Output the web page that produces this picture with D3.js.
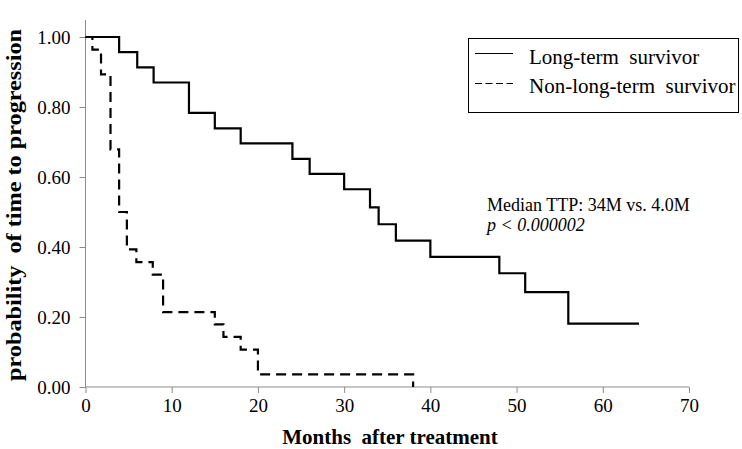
<!DOCTYPE html>
<html><head><meta charset="utf-8">
<script src="https://cdn.jsdelivr.net/npm/d3@7"></script>
<style>body{margin:0;background:#fff}svg{display:block}text{font-family:"Liberation Serif","Times New Roman",serif;white-space:pre}</style>
</head><body>
<script>
const longTimes  = [0, 3.9, 6, 7.9, 12, 15, 18, 24, 26, 30, 33, 34, 36, 40, 48, 51, 56];
const longValues = [1, 0.957, 0.913, 0.870, 0.783, 0.739, 0.696, 0.652, 0.609, 0.565, 0.513, 0.465, 0.418, 0.372, 0.325, 0.271, 0.181];
const longEnd = 64.2;
const nonTimes  = [0, 0.8, 1.8, 2.9, 3.9, 4.8, 5.9, 7.8, 9, 15, 16, 18, 20, 38];
const nonValues = [1, 0.964, 0.893, 0.679, 0.5, 0.393, 0.357, 0.321, 0.214, 0.179, 0.143, 0.107, 0.036, 0];
const nonEnd = 38;
const xTicks = [0, 10, 20, 30, 40, 50, 60, 70];
const yTicks = [0, 0.2, 0.4, 0.6, 0.8, 1.0];
const seriesNames = ["Long-term  survivor", "Non-long-term  survivor"];

const W = 742, H = 449;
const svg = d3.select("body").append("svg").attr("width", W).attr("height", H);
const x = d3.scaleLinear().domain([0, 70]).range([85.5, 689]);
const y = d3.scaleLinear().domain([0, 1]).range([387, 37]);
const serif = "Liberation Serif";

// axes
const xAxis = svg.append("g").attr("transform", "translate(0,387)")
  .call(d3.axisBottom(x).tickValues(xTicks).tickSize(6).tickPadding(6).tickFormat(d3.format("d")));
const yAxis = svg.append("g").attr("transform", "translate(85.5,0)")
  .call(d3.axisLeft(y).tickValues(yTicks).tickSize(6).tickPadding(9).tickFormat(d3.format(".2f")));
[xAxis, yAxis].forEach(g => {
  g.attr("font-family", serif).attr("font-size", 19);
  g.select(".domain").remove();
  g.selectAll("line").attr("stroke", "#8c8c8c");
  g.selectAll("text").style("font-family", serif).attr("font-size", 19).attr("fill", "#000");
});
svg.append("line").attr("x1", 85.5).attr("x2", 85.5).attr("y1", 20).attr("y2", 387).attr("stroke", "#8c8c8c");
svg.append("line").attr("x1", 85.5).attr("x2", 689).attr("y1", 387).attr("y2", 387).attr("stroke", "#8c8c8c");

// step lines
function stepData(ts, vs, end) {
  const pts = ts.map((t, i) => [t, vs[i]]);
  pts.push([end, vs[vs.length - 1]]);
  return pts;
}
const line = d3.line().x(d => x(d[0])).y(d => y(d[1])).curve(d3.curveStepAfter);
svg.append("path").datum(stepData(nonTimes, nonValues, nonEnd)).attr("d", line)
  .attr("fill", "none").attr("stroke", "#000").attr("stroke-width", 2.2).attr("stroke-dasharray", "10,6");
svg.append("path").datum(stepData(longTimes, longValues, longEnd)).attr("d", line)
  .attr("fill", "none").attr("stroke", "#000").attr("stroke-width", 2.2);

// axis titles
svg.append("text").attr("x", 390).attr("y", 444).attr("text-anchor", "middle")
  .style("font-family", serif).attr("font-weight", "bold").attr("font-size", 21).text("Months  after treatment");
svg.append("text").attr("transform", "translate(21,205) rotate(-90)").attr("text-anchor", "middle")
  .style("font-family", serif).attr("font-weight", "bold").attr("font-size", 22)
  .attr("textLength", 352).attr("lengthAdjust", "spacingAndGlyphs")
  .text("probability  of time to progression");

// legend
const lg = svg.append("g");
lg.append("rect").attr("x", 468.5).attr("y", 38.5).attr("width", 270).attr("height", 74)
  .attr("fill", "#fff").attr("stroke", "#000").attr("stroke-width", 1);
lg.append("line").attr("x1", 475).attr("x2", 513).attr("y1", 53.5).attr("y2", 53.5).attr("stroke", "#000").attr("stroke-width", 1);
lg.append("line").attr("x1", 475).attr("x2", 513).attr("y1", 83.5).attr("y2", 83.5).attr("stroke", "#000").attr("stroke-width", 1).attr("stroke-dasharray", "7,3.5");
lg.append("text").attr("x", 529).attr("y", 64).style("font-family", serif).attr("font-size", 21).text(seriesNames[0]);
lg.append("text").attr("x", 529).attr("y", 93).style("font-family", serif).attr("font-size", 21).text(seriesNames[1]);

// annotation
svg.append("text").attr("x", 487).attr("y", 211).style("font-family", serif).attr("font-size", 18).text("Median TTP: 34M vs. 4.0M");
svg.append("text").attr("x", 487).attr("y", 231).style("font-family", serif).attr("font-size", 18).attr("font-style", "italic").text("p < 0.000002");
</script>
</body></html>
